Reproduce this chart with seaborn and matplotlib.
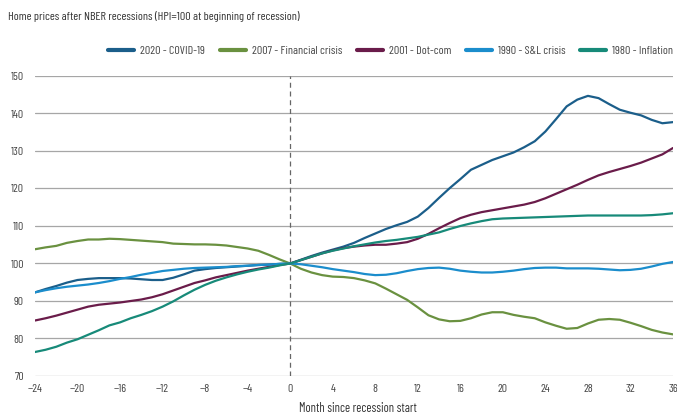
import pandas as pd
import matplotlib.pyplot as plt
import seaborn as sns

# months relative to recession start
months = list(range(-24, 37))

covid = [92.3, 93.2, 94.0, 94.9, 95.6, 95.9, 96.1, 96.1, 96.1, 96.0, 95.8, 95.6, 95.6,
         96.2, 97.1, 98.1, 98.5, 98.8, 99.0, 99.2, 99.4, 99.6, 99.7, 99.9, 100,
         101, 102, 102.9, 103.7, 104.5, 105.5, 106.8, 108, 109.2, 110.2, 111.1, 112.5,
         114.8, 117.5, 120.1, 122.5, 125, 126.3, 127.6, 128.6, 129.6, 131, 132.6, 135.2,
         138.5, 141.9, 143.7, 144.7, 144.1, 142.5, 141, 140.2, 139.5, 138.3, 137.4, 137.7]
financial = [103.8, 104.3, 104.7, 105.5, 106.0, 106.4, 106.4, 106.6, 106.5, 106.3, 106.1,
             105.9, 105.7, 105.3, 105.2, 105.1, 105.1, 105.0, 104.8, 104.4, 104.0, 103.4,
             102.3, 101.1, 100,
             98.6, 97.6, 96.9, 96.5, 96.4, 96.1, 95.5, 94.7, 93.3, 91.8, 90.3, 88.3, 86.2,
             85.1, 84.6, 84.7, 85.4, 86.4, 87.0, 87.0, 86.3, 85.8, 85.4, 84.3, 83.4, 82.6,
             82.8, 84.0, 85.0, 85.2, 85.0, 84.2, 83.3, 82.3, 81.6, 81.1]
dotcom = [84.8, 85.4, 86.1, 86.9, 87.7, 88.5, 89.0, 89.3, 89.6, 90.0, 90.4, 91.0, 91.8,
          92.8, 93.8, 94.8, 95.5, 96.3, 96.9, 97.5, 98.1, 98.6, 99.1, 99.6, 100,
          100.9, 101.8, 102.7, 103.5, 104.1, 104.5, 104.8, 105.0, 105.0, 105.3, 105.7,
          106.6, 107.9, 109.4, 110.8, 112.1, 113.0, 113.7, 114.2, 114.7, 115.2, 115.7,
          116.4, 117.4, 118.6, 119.8, 121.0, 122.3, 123.5, 124.4, 125.2, 126.0, 126.9,
          128.0, 129.1, 130.8]
snl = [92.3, 92.9, 93.4, 93.8, 94.1, 94.4, 94.8, 95.3, 95.9, 96.4, 97.0, 97.5, 98.0,
       98.3, 98.6, 98.8, 98.9, 99.0, 99.1, 99.3, 99.4, 99.6, 99.7, 99.9, 100,
       99.8, 99.4, 99.0, 98.5, 98.1, 97.7, 97.2, 96.9, 97.0, 97.4, 98.0, 98.5, 98.8,
       98.9, 98.6, 98.1, 97.8, 97.6, 97.6, 97.8, 98.1, 98.5, 98.8, 98.9, 98.9, 98.7,
       98.7, 98.7, 98.6, 98.4, 98.2, 98.3, 98.6, 99.2, 99.9, 100.4]
inflation = [76.4, 77.0, 77.8, 78.9, 79.8, 81.0, 82.2, 83.5, 84.3, 85.4, 86.3, 87.3, 88.5,
             89.9, 91.5, 93.0, 94.3, 95.4, 96.3, 97.1, 97.8, 98.4, 98.9, 99.5, 100,
             100.9, 101.8, 102.7, 103.4, 104.0, 104.6, 105.1, 105.6, 106.0, 106.3, 106.7,
             107.1, 107.7, 108.3, 109.2, 110.0, 110.7, 111.3, 111.8, 112.0, 112.1, 112.2,
             112.3, 112.4, 112.5, 112.6, 112.7, 112.8, 112.8, 112.8, 112.8, 112.8, 112.8,
             112.9, 113.1, 113.4]

labels = ['2020 - COVID-19', '2007 - Financial crisis', '2001 - Dot-com',
          '1990 - S&L crisis', '1980 - Inflation']
colors = ['#1b5e8a', '#6a9140', '#6a1c4a', '#1b8dcc', '#178a79']

frames = []
for lab, vals in zip(labels, [covid, financial, dotcom, snl, inflation]):
    frames.append(pd.DataFrame({'Month': months, 'HPI': vals, 'Recession': lab}))
df = pd.concat(frames, ignore_index=True)

sns.set_style('white')
plt.rcParams['font.family'] = ['Barlow Condensed', 'Roboto Condensed', 'DejaVu Sans']

fig = plt.figure(figsize=(6.77, 4.15), dpi=100)
ax = fig.add_axes([35 / 677, 1 - 376 / 415, 638 / 677, 300 / 415])

sns.lineplot(data=df, x='Month', y='HPI', hue='Recession', hue_order=labels,
             palette=dict(zip(labels, colors)), linewidth=1.6, ax=ax)

ax.axvline(0, color='#666666', linewidth=0.9, linestyle=(0, (4, 3)), zorder=1)

ax.set_xlim(-24, 36)
ax.set_ylim(70, 150)
ax.set_xticks(range(-24, 37, 4))
ax.set_yticks(range(70, 151, 10))
ax.yaxis.grid(True, color='#a6a6a6', linewidth=0.9)
ax.xaxis.grid(False)
for s in ['top', 'right', 'left', 'bottom']:
    ax.spines[s].set_visible(False)
ax.tick_params(axis='both', labelsize=8.5, colors='#444444', length=0)
ax.tick_params(axis='x', pad=6)
ax.tick_params(axis='y', pad=8)
ax.set_xlabel('')
ax.set_ylabel('')

ax.legend(loc='center right', bbox_to_anchor=(1.0, 1 + (76 - 51) / 300), ncol=5,
          frameon=False, fontsize=8.6, handlelength=2.2, columnspacing=1.2,
          handletextpad=0.5, labelcolor='#444444', borderaxespad=0, borderpad=0)
for line in ax.get_legend().get_lines():
    line.set_linewidth(3)

fig.text(8 / 677, 1 - 17 / 415, 'Home prices after NBER recessions (HPI=100 at beginning of recession)',
         fontsize=8.7, color='#333333', va='center', ha='left')
fig.text(299 / 677, 1 - 402 / 415, 'Month since recession start',
         fontsize=9, color='#333333', va='top', ha='left')

fig.savefig('out.png', dpi=100)
